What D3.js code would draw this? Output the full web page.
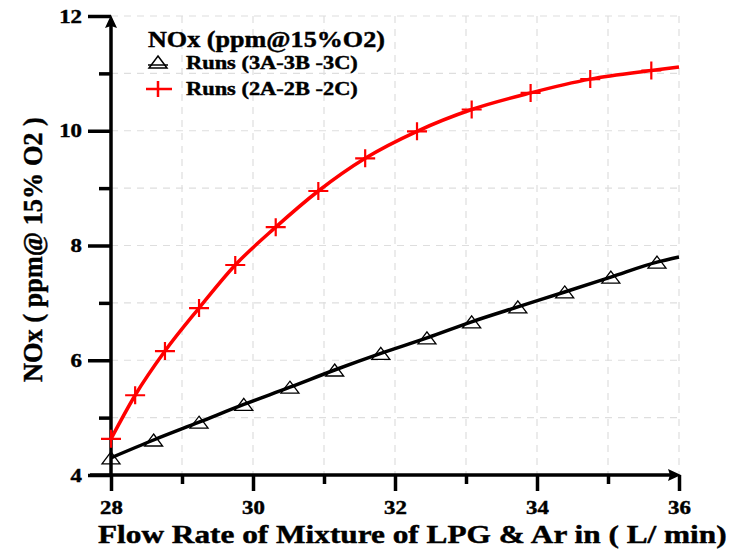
<!DOCTYPE html>
<html>
<head>
<meta charset="utf-8">
<script src="https://cdn.jsdelivr.net/npm/d3@7"></script>
<style>
  html, body { margin: 0; padding: 0; background: #fff; }
  svg { display: block; }
  text { font-family: "Liberation Serif", "Times New Roman", serif; font-weight: bold; fill: #000; stroke: #000; stroke-width: 0.45px; }
</style>
</head>
<body>
<svg id="chart" width="733" height="549"></svg>
<script>
// ---------- data ----------
const legendTitle = "NOx (ppm@15%O2)";
const seriesNames = ["Runs (3A-3B -3C)", "Runs (2A-2B -2C)"];
const xTicks = [28, 30, 32, 34, 36];
const yTicks = [4, 6, 8, 10, 12];
const runs3X = [28.0, 28.6, 29.24, 29.87, 30.52, 31.15, 31.8, 32.45, 33.08, 33.73, 34.39, 35.04, 35.69];
const runs3Y = [4.30, 4.61, 4.92, 5.23, 5.53, 5.83, 6.12, 6.39, 6.67, 6.93, 7.19, 7.45, 7.71];
const runs2X = [28.0, 28.34, 28.76, 29.24, 29.75, 30.32, 30.92, 31.58, 32.31, 33.08, 33.91, 34.75, 35.61];
const runs2Y = [4.63, 5.39, 6.16, 6.91, 7.66, 8.32, 8.95, 9.52, 9.99, 10.37, 10.66, 10.90, 11.05];
const lineEndX = 36;
const runs3EndY = 7.80;
const runs2EndY = 11.11;
const xTitle = "Flow Rate of Mixture of LPG & Ar in ( L/ min)";
const yTitle = "NOx ( ppm@ 15% O2 )";

// ---------- layout ----------
const svg = d3.select("#chart");
const x = d3.scaleLinear().domain([28, 36]).range([111, 679]);
const y = d3.scaleLinear().domain([4, 12]).range([475, 16]);
const SX = 1.2; // horizontal stretch of the glyphs in the reference

// text helper: place text at (x0,y0), stretch horizontally to a target width
function fitText(sel, str, x0, y0, size, width, rot) {
  const t = sel.append("text").attr("font-size", size).text(str);
  const w = t.node().getComputedTextLength();
  const s = width / w;
  t.attr("transform", `translate(${x0},${y0})${rot ? ` rotate(${rot})` : ""} scale(${s},1)`);
  return t;
}

// grid
const grid = svg.append("g").attr("stroke", "#dedede").attr("stroke-width", 1.2).attr("stroke-dasharray", "7,6");
grid.selectAll("line.v").data(d3.range(29, 37)).enter().append("line")
  .attr("x1", d => x(d)).attr("x2", d => x(d)).attr("y1", y(12)).attr("y2", y(4));
grid.selectAll("line.h").data(d3.range(5, 13)).enter().append("line")
  .attr("x1", x(28)).attr("x2", x(36)).attr("y1", d => y(d)).attr("y2", d => y(d));

// axes
const axisG = svg.append("g");
const xAxis = d3.axisBottom(x).tickValues(xTicks).tickSize(16).tickPadding(10).tickFormat(d3.format("d"));
const gx = axisG.append("g").attr("transform", `translate(0,${y(4)})`).call(xAxis);
gx.select(".domain").remove();
gx.selectAll(".tick line").attr("stroke", "#000").attr("stroke-width", 3.5);
gx.selectAll(".tick text").attr("font-size", 19).attr("font-family", "Liberation Serif").attr("font-weight", "bold")
  .attr("fill", "#000").attr("transform", `scale(${SX},1)`);
const xMinor = d3.axisBottom(x).tickValues([29, 31, 33, 35]).tickSize(9).tickFormat("");
const gxm = axisG.append("g").attr("transform", `translate(0,${y(4)})`).call(xMinor);
gxm.select(".domain").remove();
gxm.selectAll(".tick line").attr("stroke", "#000").attr("stroke-width", 3.5);

const yAxis = d3.axisLeft(y).tickValues(yTicks).tickSize(23).tickPadding(6).tickFormat(d3.format("d"));
const gy = axisG.append("g").attr("transform", `translate(${x(28)},0)`).call(yAxis);
gy.select(".domain").remove();
gy.selectAll(".tick line").attr("stroke", "#000").attr("stroke-width", 3.5);
gy.selectAll(".tick text").attr("font-size", 19).attr("font-family", "Liberation Serif").attr("font-weight", "bold")
  .attr("fill", "#000").attr("x", -29 / SX).attr("transform", `scale(${SX},1)`);
const yMinor = d3.axisLeft(y).tickValues([5, 7, 9, 11]).tickSize(12).tickFormat("");
const gym = axisG.append("g").attr("transform", `translate(${x(28)},0)`).call(yMinor);
gym.select(".domain").remove();
gym.selectAll(".tick line").attr("stroke", "#000").attr("stroke-width", 3.5);

// axis lines with arrows
axisG.append("line").attr("x1", 90).attr("x2", x(36) - 8).attr("y1", y(4)).attr("y2", y(4))
  .attr("stroke", "#000").attr("stroke-width", 3.5);
axisG.append("line").attr("x1", x(28)).attr("x2", x(28)).attr("y1", y(4) + 2).attr("y2", y(12) + 8)
  .attr("stroke", "#000").attr("stroke-width", 3.5);
axisG.append("path")
  .attr("d", `M${x(36) + 2},${y(4)} L${x(36) - 11},${y(4) - 6} L${x(36) - 9},${y(4)} L${x(36) - 11},${y(4) + 6} Z`)
  .attr("fill", "#000");
axisG.append("path")
  .attr("d", `M${x(28)},${y(12) - 1} L${x(28) - 6},${y(12) + 12} L${x(28)},${y(12) + 10} L${x(28) + 6},${y(12) + 12} Z`)
  .attr("fill", "#000");

// lines
const line = d3.line().x(d => x(d[0])).y(d => y(d[1])).curve(d3.curveMonotoneX);
const r3 = runs3X.map((v, i) => [v, runs3Y[i]]);
const r2 = runs2X.map((v, i) => [v, runs2Y[i]]);
svg.append("path").datum(r3.concat([[lineEndX, runs3EndY]])).attr("d", line)
  .attr("fill", "none").attr("stroke", "#000").attr("stroke-width", 3.5);
svg.append("path").datum(r2.concat([[lineEndX, runs2EndY]])).attr("d", line)
  .attr("fill", "none").attr("stroke", "#ff0000").attr("stroke-width", 3.5);

// markers
const tri = "M0,-7 L9,5 L-9,5 Z";
svg.append("g").selectAll("path").data(r3).enter().append("path")
  .attr("transform", d => `translate(${x(d[0])},${y(d[1]) + 1})`)
  .attr("d", tri).attr("fill", "none").attr("stroke", "#000").attr("stroke-width", 1.3);
const plus = "M-10,0 L10,0 M0,-9 L0,9";
svg.append("g").selectAll("path").data(r2).enter().append("path")
  .attr("transform", d => `translate(${x(d[0])},${y(d[1])})`)
  .attr("d", plus).attr("fill", "none").attr("stroke", "#ff0000").attr("stroke-width", 2.2);

// legend
const lg = svg.append("g");
fitText(lg, legendTitle, 148, 47, 23, 237);
lg.append("path").attr("transform", "translate(158,63)").attr("d", tri)
  .attr("fill", "none").attr("stroke", "#000").attr("stroke-width", 1.5);
lg.append("line").attr("x1", 148).attr("x2", 168).attr("y1", 65).attr("y2", 65).attr("stroke", "#000").attr("stroke-width", 1.5);
fitText(lg, seriesNames[0], 186, 69, 19, 172);
lg.append("line").attr("x1", 146).attr("x2", 172).attr("y1", 89).attr("y2", 89).attr("stroke", "#ff0000").attr("stroke-width", 2.5);
lg.append("line").attr("x1", 158).attr("x2", 158).attr("y1", 81).attr("y2", 97).attr("stroke", "#ff0000").attr("stroke-width", 2.5);
fitText(lg, seriesNames[1], 186, 95, 19, 172);

// titles
fitText(svg, xTitle, 98, 543, 26, 629);
fitText(svg, yTitle, 42, 382, 28, 265, -90);
</script>
</body>
</html>
